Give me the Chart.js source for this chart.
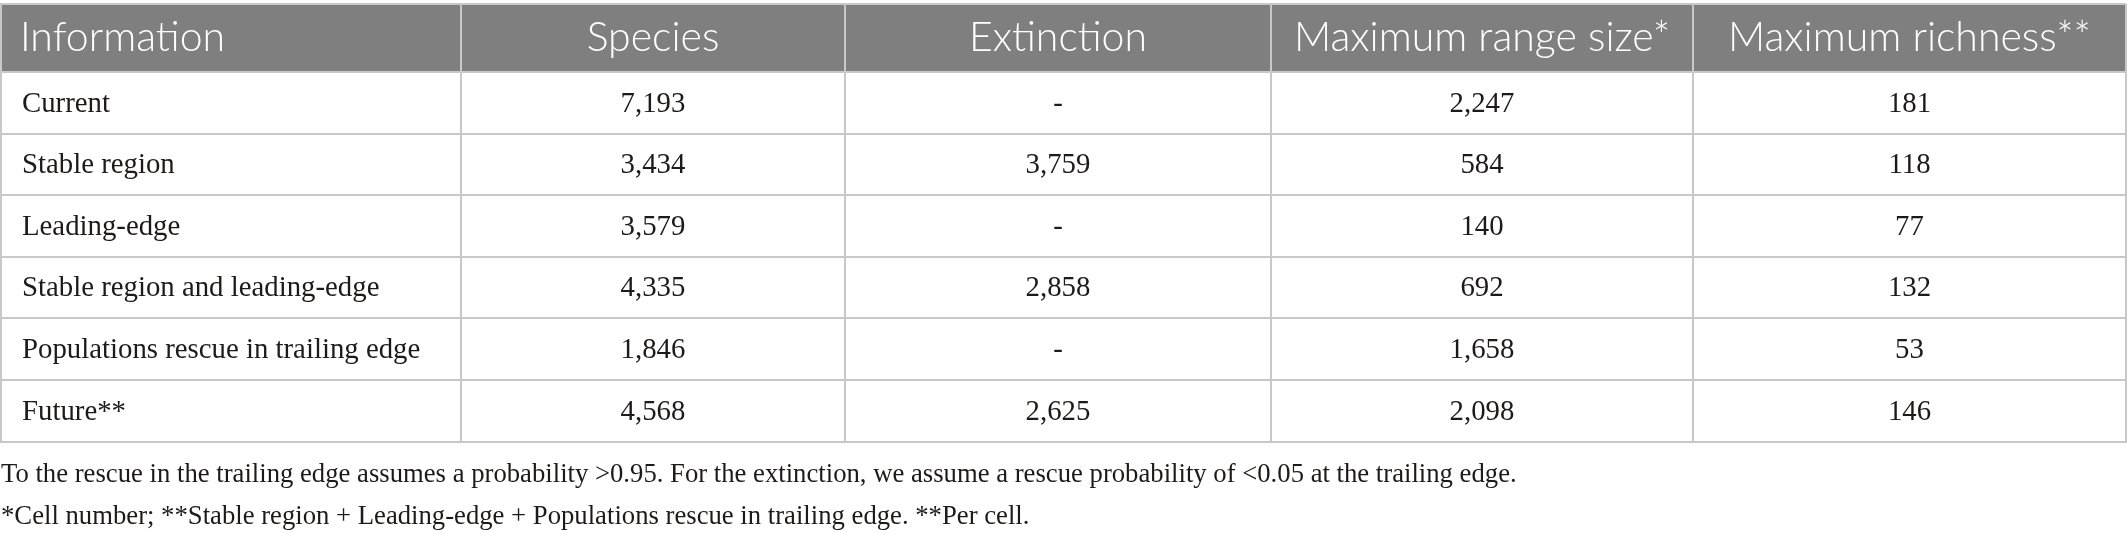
<!DOCTYPE html>
<html>
<head>
<meta charset="utf-8">
<script src="https://cdn.jsdelivr.net/npm/chart.js@4/dist/chart.umd.min.js"></script>
<style>
  html, body { margin: 0; padding: 0; background: #fff; }
  #wrap { width: 2127px; height: 534px; }
</style>
</head>
<body>
<div id="wrap"><canvas id="tableChart"></canvas></div>
<script>
const columns = ['Information', 'Species', 'Extinction', 'Maximum range size*', 'Maximum richness**'];
const rows = [
  'Current',
  'Stable region',
  'Leading-edge',
  'Stable region and leading-edge',
  'Populations rescue in trailing edge',
  'Future**',
];
const species = [7193, 3434, 3579, 4335, 1846, 4568];
const extinction = [null, 3759, null, 2858, null, 2625];
const maxRangeSize = [2247, 584, 140, 692, 1658, 2098];
const maxRichness = [181, 118, 77, 132, 53, 146];
const notes = [
  'To the rescue in the trailing edge assumes a probability >0.95. For the extinction, we assume a rescue probability of <0.05 at the trailing edge.',
  '*Cell number; **Stable region + Leading-edge + Populations rescue in trailing edge. **Per cell.',
];

// layout of the grid (not data)
const colWidths = [460, 384, 426, 422, 433];
const rowHeights = [68, 62, 61, 62, 61, 62, 62];

function edges(sizes) {
  const out = [0];
  sizes.forEach((s) => out.push(out[out.length - 1] + s));
  return out;
}
const colEdges = edges(colWidths);
const rowEdges = edges(rowHeights);

function fmt(v) {
  return v === null ? '-' : v.toLocaleString('en-US');
}

const tableValues = [species, extinction, maxRangeSize, maxRichness];

const tablePlugin = {
  id: 'tablePlugin',
  beforeDraw(chart) {
    const { ctx, scales } = chart;
    const x = scales.x;
    const y = scales.y;
    ctx.save();
    ctx.fillStyle = '#7f7f7f';
    const top = y.getPixelForValue(rowEdges[0]);
    const bottom = y.getPixelForValue(rowEdges[1]);
    ctx.fillRect(x.getPixelForValue(0), top, x.getPixelForValue(colEdges[colEdges.length - 1]) - x.getPixelForValue(0), bottom - top);
    ctx.restore();
  },
  afterDraw(chart) {
    const { ctx, scales } = chart;
    const x = scales.x;
    const y = scales.y;
    const midY = (r) => y.getPixelForValue((rowEdges[r] + rowEdges[r + 1]) / 2);
    const midX = (c) => x.getPixelForValue((colEdges[c] + colEdges[c + 1]) / 2);
    const leftX = x.getPixelForValue(colEdges[0]) + 21;

    ctx.save();
    ctx.textBaseline = 'middle';

    // header
    ctx.fillStyle = '#ffffff';
    ctx.font = '300 41px Lato';
    columns.forEach((label, c) => {
      ctx.textAlign = c === 0 ? 'left' : 'center';
      ctx.fillText(label, c === 0 ? leftX - 2 : midX(c), midY(0));
    });

    // body
    ctx.fillStyle = '#1f1a17';
    ctx.font = '28.8px "Liberation Serif"';
    rows.forEach((label, r) => {
      ctx.textAlign = 'left';
      ctx.fillText(label, leftX, midY(r + 1) + 1);
      tableValues.forEach((series, c) => {
        ctx.textAlign = 'center';
        ctx.fillText(fmt(series[r]), midX(c + 1), midY(r + 1) + 1);
      });
    });
    ctx.restore();
  },
};

const gridStyle = {
  color: '#c8c8c8',
  lineWidth: 2,
  drawTicks: false,
};

const config = {
  type: 'scatter',
  data: { datasets: [] },
  options: {
    responsive: true,
    maintainAspectRatio: false,
    animation: false,
    devicePixelRatio: 1,
    layout: { padding: { left: 1, right: 1, top: 4, bottom: 0 } },
    plugins: {
      legend: { display: false },
      tooltip: { enabled: false },
      title: {
        display: true,
        position: 'bottom',
        align: 'start',
        text: notes,
        color: '#1f1a17',
        font: { family: 'Liberation Serif', size: 26.7, weight: 'normal', lineHeight: 1.573 },
        padding: { top: 12, bottom: -4 },
      },
    },
    scales: {
      x: {
        type: 'linear',
        min: 0,
        max: colEdges[colEdges.length - 1],
        afterBuildTicks: (axis) => {
          axis.ticks = colEdges.map((v) => ({ value: v }));
        },
        ticks: { display: false },
        grid: gridStyle,
        border: { display: true, color: '#c8c8c8', width: 2 },
      },
      y: {
        type: 'linear',
        reverse: true,
        min: 0,
        max: rowEdges[rowEdges.length - 1],
        afterBuildTicks: (axis) => {
          axis.ticks = rowEdges.map((v) => ({ value: v }));
        },
        ticks: { display: false },
        grid: gridStyle,
        border: { display: true, color: '#c8c8c8', width: 2 },
      },
    },
  },
  plugins: [tablePlugin],
};

const ctxTable = document.getElementById('tableChart').getContext('2d');
const tableChart = new Chart(ctxTable, config);
</script>
</body>
</html>
